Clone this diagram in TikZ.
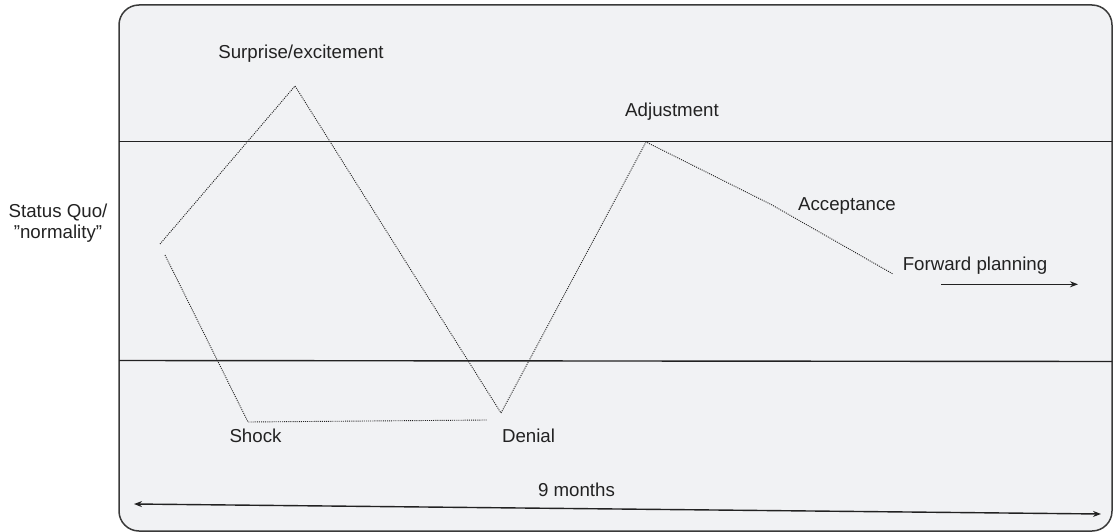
\documentclass[tikz,border=0pt]{standalone}
\usepackage{fontspec}
\setmainfont{Liberation Sans}
\usetikzlibrary{arrows.meta}
\definecolor{boxfill}{HTML}{F1F2F4}
\definecolor{ink}{HTML}{222222}
\definecolor{edge}{HTML}{3A3A3A}
\begin{document}
\begin{tikzpicture}[x=1pt,y=-1pt,
  lbl/.style={font=\fontsize{18.7}{21}\selectfont, text=ink, inner sep=0pt, anchor=base},
  level/.style={draw=ink, line width=1.4pt},
  curve/.style={draw=ink, line width=0.9pt, dash pattern=on 1pt off 1.1pt},
  arr/.style={draw=ink, line width=1.4pt, -{Stealth[length=8pt,width=6pt]}},
  darr/.style={draw=ink, line width=1.4pt, {Stealth[length=8pt,width=6pt]}-{Stealth[length=8pt,width=6pt]}},
  frame/.style={fill=boxfill, draw=edge, line width=1.5pt, rounded corners=20pt}
]
\useasboundingbox (0,0) rectangle (1113,532);
\draw[frame] (119,5) rectangle (1112,531);

% level lines
\coordinate (u1) at (119,141.5);
\coordinate (u2) at (1112,141.5);
\coordinate (l1) at (119,360.5);
\coordinate (l2) at (1112,361.5);
\draw[level] (u1) -- (u2);
\draw[level] (l1) -- (l2);

% curve vertices
\coordinate (s0) at (160,244);
\coordinate (peak) at (295,86);
\coordinate (den) at (501,413);
\coordinate (adj) at (646,142);
\coordinate (acc) at (772,205);
\coordinate (fwd) at (893,274);
\coordinate (t0) at (165,255);
\coordinate (shk) at (248,422);
\coordinate (t1) at (487,420);

\draw[curve] (s0) -- (peak) -- (den) -- (adj) -- (acc) -- (fwd);
\draw[curve] (t0) -- (shk) -- (t1);

% labels
\node[lbl] (surprise) at (301,59) {Surprise/excitement};
\node[lbl] (adjust) at (672,116.5) {Adjustment};
\node[lbl] (accept) at (847,210) {Acceptance};
\node[lbl] (forward) at (975,270.5) {Forward planning};
\node[lbl] (shock) at (255.5,442) {Shock};
\node[lbl] (denial) at (528.5,442) {Denial};
\node[lbl] (months) at (576.5,496.5) {9 months};
\node[lbl, align=center] (status) at (58,238.5) {Status Quo/\\”normality”};

% arrows
\coordinate (f1) at (941,284.3);
\coordinate (f2) at (1078,284.3);
\draw[arr] (f1) -- (f2);
\coordinate (m1) at (134,504);
\coordinate (m2) at (1101,514);
\draw[darr] (m1) -- (m2);
\end{tikzpicture}
\end{document}
